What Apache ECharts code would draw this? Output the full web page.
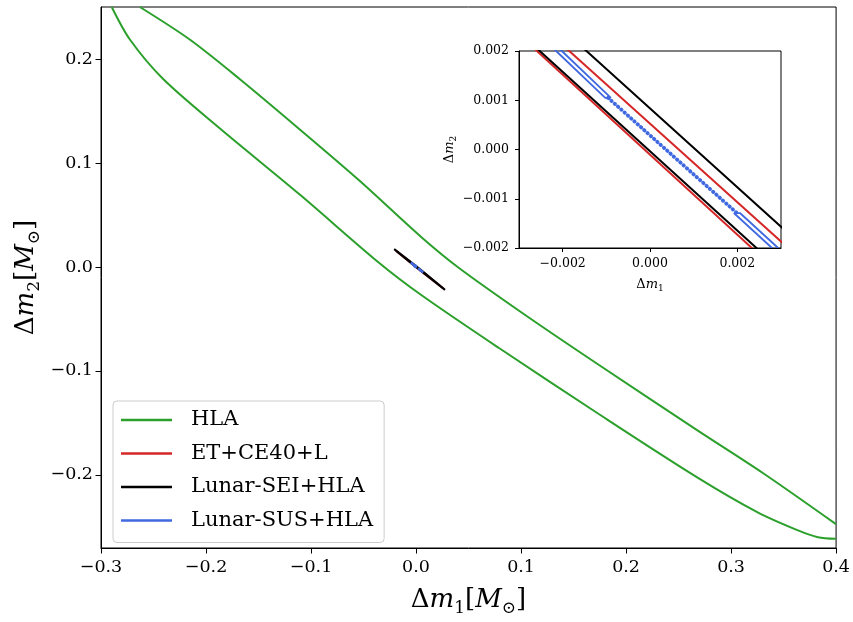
<!DOCTYPE html>
<html>
<head>
<meta charset="utf-8">
<script src="https://cdn.jsdelivr.net/npm/echarts@6/dist/echarts.min.js"></script>
<style>
  html, body { margin: 0; padding: 0; background: #fff; }
  #chart { width: 853px; height: 622px; }
</style>
</head>
<body>
<div id="chart"></div>
<script>
// ---------------- data ----------------
const legendNames = ['HLA', 'ET+CE40+L', 'Lunar-SEI+HLA', 'Lunar-SUS+HLA'];

// HLA contour (two visible edges of the large ellipse)
const hlaUpperEdge = [
  [-0.263, 0.2503], [-0.2155, 0.2190], [-0.168, 0.1810], [-0.111, 0.1327],
  [-0.054, 0.0833], [0.0046, 0.0292], [0.0409, -0.0009], [0.1074, -0.0486],
  [0.1739, -0.0941], [0.2687, -0.1577], [0.3306, -0.1985], [0.3999, -0.2475]
];
const hlaLowerEdge = [
  [-0.2898, 0.2503], [-0.2725, 0.2190], [-0.2408, 0.1810], [-0.187, 0.1336],
  [-0.111, 0.0700], [-0.035, 0.0039], [0.006, -0.0277], [0.079, -0.0780],
  [0.174, -0.1415], [0.2689, -0.2032], [0.3258, -0.2364], [0.3637, -0.2535],
  [0.3828, -0.2601], [0.3999, -0.2617]
];

// ET+CE40+L contour (thin ellipse)
const etContour = [
  [-0.0190, 0.0155], [-0.006, 0.00531], [0.006, -0.00426], [0.0260, -0.0207],
  [0.006, -0.00498], [-0.006, 0.00477], [-0.0190, 0.0155]
];

// Lunar-SEI+HLA contour (thin ellipse)
const seiContour = [
  [-0.0208, 0.0172], [-0.006, 0.00564], [0.006, -0.00397], [0.0276, -0.0220],
  [0.006, -0.00487], [-0.006, 0.00480], [-0.0208, 0.0172]
];

// Lunar-SUS+HLA contour: two close parallel edges at both ends, dotted middle
const susEndA = [
  [-0.000895, 0.00105], [-0.00202, 0.0020], [-0.0050, 0.0043],
  [-0.00215, 0.0020], [-0.001025, 0.00105], [-0.000895, 0.00105]
];
const susEndB = [
  [0.00192, -0.00129], [0.002745, -0.00196], [0.0068, -0.0052],
  [0.002885, -0.00196], [0.00206, -0.00129], [0.00192, -0.00129]
];
const susMiddle = [[-0.00096, 0.00105], [0.00199, -0.00129]];

// axis ticks
const mainXRange = [-0.3, 0.4];
const mainYRange = [-0.2705, 0.2503];
const mainYTicks = [-0.2, -0.1, 0.0, 0.1, 0.2];
const insetXRange = [-0.003, 0.003];
const insetXTicks = [-0.002, 0.0, 0.002];
const insetYRange = [-0.002, 0.002];

// ---------------- chart ----------------
const F = 'DejaVu Serif';
const GREEN = '#2ca02c', RED = '#d62728', BLACK = '#000000', BLUE = '#4169e1';

function fmt(v, d) {
  if (Math.abs(v) < 1e-12) v = 0;
  const s = Number(v).toFixed(d);
  return s.charAt(0) === '-' ? '\u2212' + s.slice(1) : s;
}
function nameRich(fs, sub) {
  return {
    n: { fontFamily: F, fontSize: fs, lineHeight: Math.round(fs * 1.25), color: '#000' },
    i: { fontFamily: F, fontStyle: 'italic', fontSize: fs, lineHeight: Math.round(fs * 1.25), color: '#000' },
    s: { fontFamily: F, fontSize: sub, verticalAlign: 'bottom', lineHeight: Math.round(sub * 1.05), color: '#000' }
  };
}
const axisCommon = {
  axisLine: { show: true, onZero: false, lineStyle: { color: '#000', width: 1 } },
  splitLine: { show: false },
  nameMoveOverlap: false
};

function lineSeries(name, data, color, width, gi, extra) {
  return Object.assign({
    type: 'line', name: name, data: data, xAxisIndex: gi, yAxisIndex: gi,
    showSymbol: false, symbol: 'none', clip: true, animation: false,
    lineStyle: { color: color, width: width }, itemStyle: { color: color },
    emphasis: { disabled: true }, z: gi === 0 ? 3 : 12
  }, extra || {});
}

const series = [];
[0, 1].forEach(function (gi) {
  if (gi === 0) {
    series.push(lineSeries('HLA', hlaUpperEdge, GREEN, 2, 0, { smooth: 0.3 }));
    series.push(lineSeries('HLA', hlaLowerEdge, GREEN, 2, 0, { smooth: 0.3 }));
  }
  series.push(lineSeries('ET+CE40+L', etContour, RED, 2, gi));
  series.push(lineSeries('Lunar-SEI+HLA', seiContour, BLACK, 2, gi));
  series.push(lineSeries('Lunar-SUS+HLA', susEndA, BLUE, gi === 0 ? 2.5 : 1.8, gi));
  series.push(lineSeries('Lunar-SUS+HLA', susEndB, BLUE, gi === 0 ? 2.5 : 1.8, gi));
  series.push(lineSeries('Lunar-SUS+HLA', susMiddle, BLUE, 3.8, gi, {
    lineStyle: { color: BLUE, width: 3.8, type: [0.5, 3.9], cap: 'round' }
  }));
});

const option = {
  animation: false,
  backgroundColor: '#fff',
  grid: [
    { left: 101, top: 7, width: 737, height: 549, show: true, borderColor: '#000', borderWidth: 1, backgroundColor: '#fff', containLabel: false },
    { left: 519, top: 51, width: 262, height: 197, show: true, borderColor: '#000', borderWidth: 1, backgroundColor: '#fff', containLabel: false, z: 5 }
  ],
  xAxis: [
    Object.assign({}, axisCommon, {
      type: 'value', gridIndex: 0, min: mainXRange[0], max: mainXRange[1], interval: 0.1,
      axisTick: { show: true, length: 5.5, inside: false, lineStyle: { color: '#000' } },
      axisLabel: { color: '#000', fontFamily: F, fontSize: 17.5, margin: 10, formatter: function (v) { return fmt(v, 1); } },
      name: '{n|\u0394}{i|m}{s|1}{n|[}{i|M}{s|\u2299}{n|]}', nameLocation: 'middle', nameGap: 36,
      nameTextStyle: { rich: nameRich(26, 17) }
    }),
    Object.assign({}, axisCommon, {
      type: 'value', gridIndex: 1, min: insetXRange[0], max: insetXRange[1], z: 14,
      axisTick: { show: true, length: 4, customValues: insetXTicks, lineStyle: { color: '#000' } },
      axisLabel: { color: '#000', fontFamily: F, fontSize: 12.5, margin: 9, customValues: insetXTicks, formatter: function (v) { return fmt(v, 3); } },
      name: '{n|\u0394}{i|m}{s|1}', nameLocation: 'middle', nameGap: 29,
      nameTextStyle: { rich: nameRich(13, 9) }
    })
  ],
  yAxis: [
    Object.assign({}, axisCommon, {
      type: 'value', gridIndex: 0, min: mainYRange[0], max: mainYRange[1],
      axisTick: { show: true, length: 5.5, customValues: mainYTicks, lineStyle: { color: '#000' } },
      axisLabel: { color: '#000', fontFamily: F, fontSize: 17.5, margin: 8, customValues: mainYTicks, formatter: function (v) { return fmt(v, 1); } },
      name: '{n|\u0394}{i|m}{s|2}{n|[}{i|M}{s|\u2299}{n|]}', nameLocation: 'middle', nameGap: 58,
      nameTextStyle: { rich: nameRich(26, 17) }
    }),
    Object.assign({}, axisCommon, {
      type: 'value', gridIndex: 1, min: insetYRange[0], max: insetYRange[1], interval: 0.001, z: 14,
      axisTick: { show: true, length: 4, lineStyle: { color: '#000' } },
      axisLabel: { color: '#000', fontFamily: F, fontSize: 12.5, margin: 10, formatter: function (v) { return fmt(v, 3); } },
      name: '{n|\u0394}{i|m}{s|2}', nameLocation: 'middle', nameGap: 61,
      nameTextStyle: { rich: nameRich(13, 9) }
    })
  ],
  legend: {
    data: legendNames,
    orient: 'vertical',
    left: 113, top: 401,
    padding: [7, 11, 10, 8],
    itemGap: 9.5,
    itemWidth: 51, itemHeight: 2.5,
    icon: 'rect',
    backgroundColor: 'rgba(255,255,255,0.8)',
    borderColor: '#cccccc', borderWidth: 1, borderRadius: 4,
    selectedMode: false,
    textStyle: { fontFamily: F, fontSize: 21, lineHeight: 24, color: '#000', padding: [0, 0, 0, 14] }
  },
  series: series
};

const chart = echarts.init(document.getElementById('chart'), null, { renderer: 'canvas' });
chart.setOption(option);
</script>
</body>
</html>
